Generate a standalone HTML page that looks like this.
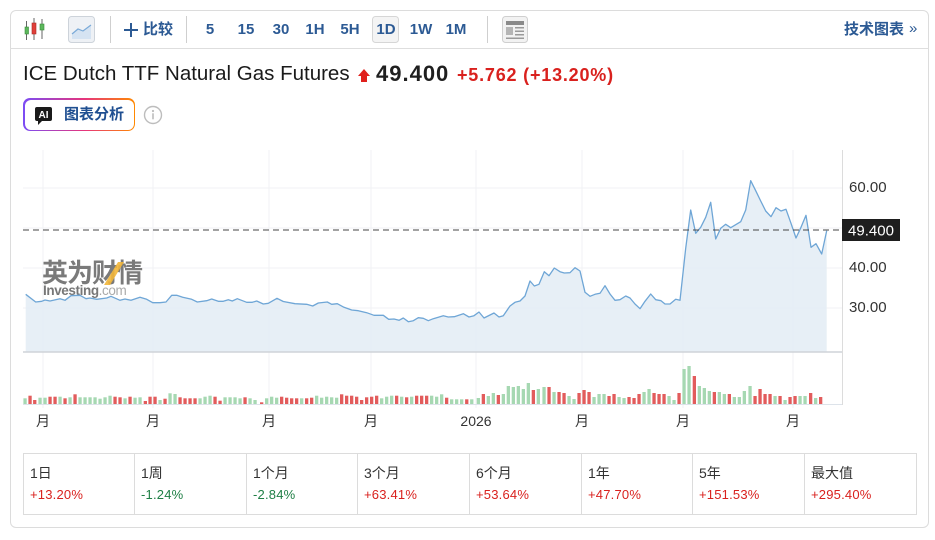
<!DOCTYPE html>
<html><head><meta charset="utf-8">
<style>
*{margin:0;padding:0;box-sizing:border-box}
html,body{width:935px;height:540px;background:#fff;overflow:hidden;font-family:"Liberation Sans","Noto Sans CJK SC",sans-serif}
.card{position:absolute;left:10px;top:10px;width:919px;height:518px;border:1px solid #dcdcdc;border-radius:6px}
.tbl{position:absolute;left:10px;top:48px;width:919px;height:1px;background:#dedede}
.tf{position:absolute;top:20px;width:30px;font-weight:bold;font-size:15px;color:#2c5a94;line-height:20px;text-align:center}
.sep{position:absolute;top:16px;width:1px;height:27px;background:#cfcfcf}
.cell{position:absolute;top:453px;height:62px;border-left:1px solid #dcdcdc}
.lab{position:absolute;left:6px;top:11px;font-size:14px;line-height:18px;color:#333;white-space:nowrap}
.val{position:absolute;left:6px;top:34px;font-size:13px;line-height:16px;white-space:nowrap;letter-spacing:0.2px}
.r{color:#d9211e}.g{color:#1e7f45}
</style></head><body>
<div class="card"></div>
<div class="tbl"></div>

<!-- toolbar icons -->
<svg style="position:absolute;left:0;top:0" width="935" height="60">
  <line x1="26.5" y1="21" x2="26.5" y2="40" stroke="#666" stroke-width="1"/>
  <rect x="25" y="27" width="3.5" height="7" fill="#5cb85c" stroke="#3a8a3a" stroke-width="0.6"/>
  <line x1="34" y1="18" x2="34" y2="40" stroke="#666" stroke-width="1"/>
  <rect x="32" y="23" width="4" height="11" fill="#e0403a" stroke="#a82a26" stroke-width="0.6"/>
  <line x1="42" y1="19" x2="42" y2="39" stroke="#666" stroke-width="1"/>
  <rect x="40" y="24" width="4" height="6" fill="#5cb85c" stroke="#3a8a3a" stroke-width="0.6"/>
  <rect x="68.5" y="16.5" width="26" height="26" rx="3" fill="#eef1f5" stroke="#cdd3da"/>
  <path d="M72 34 L78 29 L83 31 L91 25 L91 39 L72 39 Z" fill="#d5e3f2"/>
  <polyline points="72,34 78,29 83,31 91,25" fill="none" stroke="#7aaad8" stroke-width="1.2"/>
  <rect x="372.5" y="16.5" width="26" height="26" rx="3" fill="#f4f4f4" stroke="#d6d6d6"/>
  <rect x="502.5" y="16.5" width="25" height="26" rx="3" fill="#f2f2f2" stroke="#cfcfcf"/>
  <rect x="506" y="21" width="18" height="4" fill="#8a8a8a"/>
  <rect x="506" y="27" width="7" height="8" fill="#b5b5b5"/>
  <rect x="515" y="27" width="9" height="1.5" fill="#9a9a9a"/>
  <rect x="515" y="30.5" width="9" height="1.5" fill="#9a9a9a"/>
  <rect x="515" y="34" width="9" height="1.5" fill="#9a9a9a"/>
  <rect x="506" y="37.5" width="18" height="1.5" fill="#9a9a9a"/>
  <line x1="124" y1="30" x2="138" y2="30" stroke="#2c5a94" stroke-width="2"/>
  <line x1="131" y1="23" x2="131" y2="37" stroke="#2c5a94" stroke-width="2"/>
</svg>
<div class="sep" style="left:110px"></div>
<div class="sep" style="left:186px"></div>
<div class="sep" style="left:487px"></div>
<div style="position:absolute;left:143px;top:20px;font-weight:bold;font-size:15px;line-height:20px;color:#2c5a94">比较</div>
<div class="tf" style="left:195px">5</div>
<div class="tf" style="left:231px">15</div>
<div class="tf" style="left:266px">30</div>
<div class="tf" style="left:300px">1H</div>
<div class="tf" style="left:335px">5H</div>
<div class="tf" style="left:371px">1D</div>
<div class="tf" style="left:406px">1W</div>
<div class="tf" style="left:441px">1M</div>
<div style="position:absolute;left:844px;top:20px;font-weight:bold;font-size:15px;line-height:20px;color:#2c5a94">技术图表</div>
<div style="position:absolute;left:909px;top:19px;font-size:15px;line-height:20px;color:#2c5a94">»</div>

<!-- title -->
<div style="position:absolute;left:23px;top:62px;font-size:20.5px;line-height:24px;color:#1a1a1a;white-space:nowrap">ICE Dutch TTF Natural Gas Futures</div>
<svg style="position:absolute;left:355px;top:66px" width="18" height="18"><polygon points="9,3 15,10 12,10 12,16 6,16 6,10 3,10" fill="#e0201c"/></svg>
<div style="position:absolute;left:376px;top:62px;font-size:22px;font-weight:bold;line-height:24px;color:#1f1f1f;letter-spacing:1px">49.400</div>
<div style="position:absolute;left:457px;top:64px;font-size:18px;font-weight:bold;line-height:22px;color:#d9211e;letter-spacing:0.8px;white-space:nowrap">+5.762 (+13.20%)</div>

<!-- AI button -->
<div style="position:absolute;left:23px;top:98px;width:112px;height:33px;border-radius:7px;background:linear-gradient(to right,#7b4cf5,#e6357c 55%,#ff8a00);padding:1.5px">
  <div style="width:100%;height:100%;background:#fff;border-radius:6px"></div>
</div>
<svg style="position:absolute;left:34px;top:105px" width="20" height="22"><path d="M3 2 H16 Q18 2 18 4 V14 Q18 16 16 16 H8 L4 20 L4 16 H3 Q1 16 1 14 V4 Q1 2 3 2 Z" fill="#1a1a1a"/><text x="9.5" y="13" text-anchor="middle" font-family="Liberation Sans" font-weight="bold" font-size="10" fill="#fff">AI</text></svg>
<div style="position:absolute;left:64px;top:105px;font-size:15px;font-weight:bold;line-height:20px;color:#1f4f91">图表分析</div>
<svg style="position:absolute;left:143px;top:104px" width="22" height="22"><circle cx="10" cy="11" r="8.5" fill="none" stroke="#bdbdbd" stroke-width="1.4"/><circle cx="10" cy="7" r="1.1" fill="#bdbdbd"/><rect x="9.2" y="9.3" width="1.6" height="6" fill="#bdbdbd"/></svg>

<!-- chart -->
<svg style="position:absolute;left:0;top:0" width="935" height="540" font-family="Liberation Sans, Noto Sans CJK SC, sans-serif">
  <g stroke="#f1f2f4" stroke-width="1">
    <line x1="23" y1="188" x2="842" y2="188"/>
    <line x1="23" y1="228" x2="842" y2="228"/>
    <line x1="23" y1="268" x2="842" y2="268"/>
    <line x1="23" y1="308" x2="842" y2="308"/>
    <line x1="43" y1="150" x2="43" y2="408"/>
    <line x1="153" y1="150" x2="153" y2="408"/>
    <line x1="269" y1="150" x2="269" y2="408"/>
    <line x1="371" y1="150" x2="371" y2="408"/>
    <line x1="476" y1="150" x2="476" y2="408"/>
    <line x1="582" y1="150" x2="582" y2="408"/>
    <line x1="683" y1="150" x2="683" y2="408"/>
    <line x1="793" y1="150" x2="793" y2="408"/>
  </g>
  <!-- watermark -->
  <text x="42" y="282" font-size="26" font-weight="bold" fill="#7a7a7a" letter-spacing="-1" font-family="Noto Sans CJK SC, sans-serif">英为财情</text>
  <polygon points="118,262 124,262 110,285 104,285" fill="#f2b63a" opacity="0.9"/>
  <text x="43" y="295" font-size="13.5" font-weight="bold" fill="#777" letter-spacing="-0.4">Investing<tspan font-weight="normal" fill="#aaa">.com</tspan></text>

  <polygon fill="#e4edf5" fill-opacity="0.9" points="25.7,294.3 35.7,302 41.7,301.3 45,300 50,301 60,298.7 65,300.3 71,295.7 80,295.3 86,298.7 90,298 96.7,299.3 106.7,298 111,296.3 120,300.3 125,299 131,300.3 140,297.3 146.7,299.3 152.7,302.7 160,302.7 166,302 171.7,295.3 176.7,295.3 182.7,297.3 191.7,299.3 197.3,302 206.7,300.7 211.7,299 218.3,301.3 223.3,301.3 228.3,299.7 232.3,301 237.3,298.7 246.7,302.3 252.3,302.3 256.7,301 263.3,304 268.3,303.3 277,298.3 283.3,301.5 295,303.7 306.7,304.3 312.7,306 318.3,303 327.3,302 331.7,304.3 337.3,303.7 344,307.3 351.7,310 358.3,310.7 366.7,312.7 374,315.3 383.3,315.3 388.7,319.3 394,319 399,320.3 403.3,318 408.3,321.7 413.3,320.7 418.3,317.7 423.3,318.3 428.3,320.7 433.3,318.7 438.3,317.3 443.3,315.7 448.3,317 454.3,316.7 463.3,313.7 469,317 474,315.7 479,312 484,318 494,313 499,317 503.3,315.7 510,306 515,302.3 520,301 525,296 530,281 534.3,286 539,284.3 544.3,271.7 549,275.7 554.3,268 560,271.7 564.3,273 570,272.7 575,267.7 580,271 585,292.3 590,296.3 595,294.3 600,293.3 605,285.7 610,294 615,300.3 620,299.7 625.7,296 630,298 635,304 640,308.7 645,301.3 650.7,294 655.7,299.7 661,300.7 665,304 670,304 675.7,299.3 680,300.3 685.7,248.3 690.7,210 695.7,233.3 700.7,227.3 705.7,217.3 710.7,202.3 715.7,239 720.7,228.3 725.7,224.3 730.7,227.7 735.7,224.7 740.7,221.7 745.7,210 750.7,180.7 755.7,190.7 760.7,201 765.7,211 771,216.7 776,207.7 781,211 786,209.3 791,223.3 796,238 801,227.3 806,215.3 811,247.3 816,243.7 821.7,254 826.7,230.7 826.7,352 25.7,352"/>
  <polyline fill="none" stroke="#6fa6d6" stroke-width="1.3" stroke-linejoin="round" points="25.7,294.3 35.7,302 41.7,301.3 45,300 50,301 60,298.7 65,300.3 71,295.7 80,295.3 86,298.7 90,298 96.7,299.3 106.7,298 111,296.3 120,300.3 125,299 131,300.3 140,297.3 146.7,299.3 152.7,302.7 160,302.7 166,302 171.7,295.3 176.7,295.3 182.7,297.3 191.7,299.3 197.3,302 206.7,300.7 211.7,299 218.3,301.3 223.3,301.3 228.3,299.7 232.3,301 237.3,298.7 246.7,302.3 252.3,302.3 256.7,301 263.3,304 268.3,303.3 277,298.3 283.3,301.5 295,303.7 306.7,304.3 312.7,306 318.3,303 327.3,302 331.7,304.3 337.3,303.7 344,307.3 351.7,310 358.3,310.7 366.7,312.7 374,315.3 383.3,315.3 388.7,319.3 394,319 399,320.3 403.3,318 408.3,321.7 413.3,320.7 418.3,317.7 423.3,318.3 428.3,320.7 433.3,318.7 438.3,317.3 443.3,315.7 448.3,317 454.3,316.7 463.3,313.7 469,317 474,315.7 479,312 484,318 494,313 499,317 503.3,315.7 510,306 515,302.3 520,301 525,296 530,281 534.3,286 539,284.3 544.3,271.7 549,275.7 554.3,268 560,271.7 564.3,273 570,272.7 575,267.7 580,271 585,292.3 590,296.3 595,294.3 600,293.3 605,285.7 610,294 615,300.3 620,299.7 625.7,296 630,298 635,304 640,308.7 645,301.3 650.7,294 655.7,299.7 661,300.7 665,304 670,304 675.7,299.3 680,300.3 685.7,248.3 690.7,210 695.7,233.3 700.7,227.3 705.7,217.3 710.7,202.3 715.7,239 720.7,228.3 725.7,224.3 730.7,227.7 735.7,224.7 740.7,221.7 745.7,210 750.7,180.7 755.7,190.7 760.7,201 765.7,211 771,216.7 776,207.7 781,211 786,209.3 791,223.3 796,238 801,227.3 806,215.3 811,247.3 816,243.7 821.7,254 826.7,230.7"/>

  <line x1="23" y1="230" x2="842" y2="230" stroke="#444" stroke-width="1.1" stroke-dasharray="6,4"/>
  <line x1="23" y1="352" x2="842" y2="352" stroke="#cfd3d8" stroke-width="1.5"/>
  <line x1="23" y1="404.5" x2="842" y2="404.5" stroke="#dde3ea" stroke-width="1"/>
  <line x1="842.5" y1="150" x2="842.5" y2="405" stroke="#dcdcdc" stroke-width="1"/>

  <!-- volume green -->
  <g fill="#a6d8b2">
    <rect x="23.4" y="398.3" width="3.3" height="5.7"/><rect x="38.4" y="397.7" width="3.3" height="6.3"/><rect x="43.4" y="397.7" width="3.3" height="6.3"/><rect x="58.4" y="396.7" width="3.3" height="7.3"/><rect x="68.4" y="397.3" width="3.3" height="6.7"/><rect x="78.4" y="397.3" width="3.3" height="6.7"/><rect x="83.4" y="397.3" width="3.3" height="6.7"/><rect x="88.4" y="397.3" width="3.3" height="6.7"/><rect x="93.4" y="397.3" width="3.3" height="6.7"/><rect x="98.4" y="398.7" width="3.3" height="5.3"/><rect x="103.4" y="397.3" width="3.3" height="6.7"/><rect x="108.4" y="395.7" width="3.3" height="8.3"/><rect x="123.4" y="398.3" width="3.3" height="5.7"/><rect x="133.4" y="397.7" width="3.3" height="6.3"/><rect x="138.4" y="397.3" width="3.3" height="6.7"/><rect x="158.4" y="400" width="3.3" height="4"/><rect x="168.4" y="393.3" width="3.3" height="10.7"/><rect x="173.4" y="394" width="3.3" height="10"/><rect x="198.4" y="398.3" width="3.3" height="5.7"/><rect x="203.4" y="396.7" width="3.3" height="7.3"/><rect x="208.4" y="395.7" width="3.3" height="8.3"/><rect x="223.4" y="397.3" width="3.3" height="6.7"/><rect x="228.4" y="397.3" width="3.3" height="6.7"/><rect x="233.4" y="397.3" width="3.3" height="6.7"/><rect x="238.4" y="398.3" width="3.3" height="5.7"/><rect x="248.4" y="398.3" width="3.3" height="5.7"/><rect x="253.4" y="400" width="3.3" height="4"/><rect x="265" y="398.3" width="3.3" height="5.7"/><rect x="270" y="396.7" width="3.3" height="7.3"/><rect x="275" y="397.7" width="3.3" height="6.3"/><rect x="300" y="398.3" width="3.3" height="5.7"/><rect x="315" y="395.7" width="3.3" height="8.3"/><rect x="320" y="397.7" width="3.3" height="6.3"/><rect x="325" y="396.7" width="3.3" height="7.3"/><rect x="330" y="397.3" width="3.3" height="6.7"/><rect x="335" y="397.7" width="3.3" height="6.3"/><rect x="380" y="398.3" width="3.3" height="5.7"/><rect x="385" y="396.7" width="3.3" height="7.3"/><rect x="390" y="395.7" width="3.3" height="8.3"/><rect x="400" y="396.7" width="3.3" height="7.3"/><rect x="410" y="396.7" width="3.3" height="7.3"/><rect x="430" y="395.7" width="3.3" height="8.3"/><rect x="435" y="396.7" width="3.3" height="7.3"/><rect x="440" y="394.3" width="3.3" height="9.7"/><rect x="450" y="399.3" width="3.3" height="4.7"/><rect x="455" y="399.3" width="3.3" height="4.7"/><rect x="460" y="399.3" width="3.3" height="4.7"/>
    <rect x="470.1" y="399.3" width="3.3" height="4.7"/><rect x="476.7" y="398" width="3.3" height="6"/><rect x="486.7" y="396" width="3.3" height="8"/><rect x="491.7" y="393" width="3.3" height="11"/><rect x="501.7" y="394" width="3.3" height="10"/><rect x="506.7" y="386" width="3.3" height="18"/><rect x="511.7" y="387" width="3.3" height="17"/><rect x="516.7" y="386" width="3.3" height="18"/><rect x="521.7" y="389" width="3.3" height="15"/><rect x="526.7" y="383" width="3.3" height="21"/><rect x="536.7" y="389" width="3.3" height="15"/><rect x="542.4" y="387" width="3.3" height="17"/><rect x="552.4" y="392" width="3.3" height="12"/><rect x="567.4" y="396" width="3.3" height="8"/><rect x="572.4" y="399" width="3.3" height="5"/><rect x="592.4" y="397" width="3.3" height="7"/><rect x="597.4" y="394" width="3.3" height="10"/><rect x="602.4" y="394" width="3.3" height="10"/><rect x="617.4" y="397" width="3.3" height="7"/><rect x="622.4" y="398" width="3.3" height="6"/><rect x="642.4" y="392" width="3.3" height="12"/><rect x="647.4" y="389" width="3.3" height="15"/><rect x="667.4" y="396" width="3.3" height="8"/><rect x="672.4" y="400" width="3.3" height="4"/><rect x="682.4" y="369" width="3.3" height="35"/><rect x="687.4" y="366" width="3.3" height="38"/><rect x="697.7" y="386" width="3.3" height="18"/><rect x="702.7" y="388" width="3.3" height="16"/><rect x="707.7" y="391" width="3.3" height="13"/><rect x="717.7" y="392" width="3.3" height="12"/><rect x="722.7" y="394" width="3.3" height="10"/><rect x="732.7" y="397" width="3.3" height="7"/><rect x="737.7" y="397" width="3.3" height="7"/><rect x="742.7" y="391" width="3.3" height="13"/><rect x="748.4" y="386" width="3.3" height="18"/><rect x="773.4" y="396" width="3.3" height="8"/><rect x="783.4" y="400" width="3.3" height="4"/><rect x="798.4" y="396" width="3.3" height="8"/><rect x="803.4" y="396" width="3.3" height="8"/><rect x="814" y="398" width="3.3" height="6"/>
  </g>
  <!-- volume red -->
  <g fill="#e25c5c">
    <rect x="28.4" y="395.7" width="3.3" height="8.3"/><rect x="33.1" y="400" width="3.3" height="4"/><rect x="48.4" y="396.7" width="3.3" height="7.3"/><rect x="53.4" y="396.7" width="3.3" height="7.3"/><rect x="63.4" y="398.3" width="3.3" height="5.7"/><rect x="73.4" y="394.3" width="3.3" height="9.7"/><rect x="113.4" y="396.7" width="3.3" height="7.3"/><rect x="118.4" y="397.3" width="3.3" height="6.7"/><rect x="128.4" y="396.7" width="3.3" height="7.3"/><rect x="143.7" y="401" width="3.3" height="3"/><rect x="148.4" y="396.7" width="3.3" height="7.3"/><rect x="153.4" y="396.7" width="3.3" height="7.3"/><rect x="163.4" y="398.7" width="3.3" height="5.3"/><rect x="178.4" y="397.3" width="3.3" height="6.7"/><rect x="183.4" y="398.3" width="3.3" height="5.7"/><rect x="188.4" y="398.3" width="3.3" height="5.7"/><rect x="193.4" y="398.3" width="3.3" height="5.7"/><rect x="213.4" y="396.7" width="3.3" height="7.3"/><rect x="218.4" y="400.7" width="3.3" height="3.3"/><rect x="243.4" y="397.3" width="3.3" height="6.7"/><rect x="260" y="402.3" width="3.3" height="1.7"/><rect x="280" y="396.7" width="3.3" height="7.3"/><rect x="285" y="397.7" width="3.3" height="6.3"/><rect x="290" y="398.3" width="3.3" height="5.7"/><rect x="295" y="398.3" width="3.3" height="5.7"/><rect x="305" y="398.3" width="3.3" height="5.7"/><rect x="310" y="397.7" width="3.3" height="6.3"/><rect x="340" y="394.3" width="3.3" height="9.7"/><rect x="345" y="395.7" width="3.3" height="8.3"/><rect x="350" y="395.7" width="3.3" height="8.3"/><rect x="355" y="396.7" width="3.3" height="7.3"/><rect x="360" y="400" width="3.3" height="4"/><rect x="365" y="397.3" width="3.3" height="6.7"/><rect x="370" y="396.7" width="3.3" height="7.3"/><rect x="375" y="395.7" width="3.3" height="8.3"/><rect x="395" y="395.7" width="3.3" height="8.3"/><rect x="405" y="397.3" width="3.3" height="6.7"/><rect x="415" y="395.7" width="3.3" height="8.3"/><rect x="420" y="395.7" width="3.3" height="8.3"/><rect x="425" y="395.7" width="3.3" height="8.3"/><rect x="445" y="397.7" width="3.3" height="6.3"/>
    <rect x="465.1" y="399.3" width="3.3" height="4.7"/><rect x="481.7" y="394" width="3.3" height="10"/><rect x="496.7" y="395" width="3.3" height="9"/><rect x="531.7" y="390" width="3.3" height="14"/><rect x="547.4" y="387" width="3.3" height="17"/><rect x="557.4" y="392" width="3.3" height="12"/><rect x="562.4" y="393" width="3.3" height="11"/><rect x="577.4" y="393" width="3.3" height="11"/><rect x="582.4" y="390" width="3.3" height="14"/><rect x="587.4" y="392" width="3.3" height="12"/><rect x="607.4" y="396" width="3.3" height="8"/><rect x="612.4" y="394" width="3.3" height="10"/><rect x="627.4" y="397" width="3.3" height="7"/><rect x="632.4" y="398" width="3.3" height="6"/><rect x="637.4" y="394" width="3.3" height="10"/><rect x="652.4" y="393" width="3.3" height="11"/><rect x="657.4" y="394" width="3.3" height="10"/><rect x="662.4" y="394" width="3.3" height="10"/><rect x="677.4" y="393" width="3.3" height="11"/><rect x="692.7" y="376" width="3.3" height="28"/><rect x="712.7" y="392" width="3.3" height="12"/><rect x="727.7" y="394" width="3.3" height="10"/><rect x="753.4" y="396" width="3.3" height="8"/><rect x="758.4" y="389" width="3.3" height="15"/><rect x="763.4" y="394" width="3.3" height="10"/><rect x="768.4" y="394" width="3.3" height="10"/><rect x="778.4" y="396" width="3.3" height="8"/><rect x="788.4" y="397" width="3.3" height="7"/><rect x="793.4" y="396" width="3.3" height="8"/><rect x="809" y="393" width="3.3" height="11"/><rect x="819" y="397" width="3.3" height="7"/>
  </g>

  <!-- y labels -->
  <g font-size="15" fill="#333">
    <text x="849" y="192">60.00</text>
    <text x="849" y="272">40.00</text>
    <text x="849" y="312">30.00</text>
  </g>
  <rect x="842" y="219" width="58" height="22" fill="#1e1e1e"/>
  <text x="871" y="235.5" font-size="15" fill="#fff" text-anchor="middle">49.400</text>

  <!-- x labels -->
  <g font-size="14" fill="#333" text-anchor="middle">
    <text x="43" y="426">月</text>
    <text x="153" y="426">月</text>
    <text x="269" y="426">月</text>
    <text x="371" y="426">月</text>
    <text x="476" y="426">2026</text>
    <text x="582" y="426">月</text>
    <text x="683" y="426">月</text>
    <text x="793" y="426">月</text>
  </g>
</svg>

<!-- stats -->
<div style="position:absolute;left:23px;top:453px;width:894px;height:62px;border:1px solid #dcdcdc"></div>
<div class="cell" style="left:23px"><div class="lab">1日</div><div class="val r">+13.20%</div></div>
<div class="cell" style="left:134px"><div class="lab">1周</div><div class="val g">-1.24%</div></div>
<div class="cell" style="left:246px"><div class="lab">1个月</div><div class="val g">-2.84%</div></div>
<div class="cell" style="left:357px"><div class="lab">3个月</div><div class="val r">+63.41%</div></div>
<div class="cell" style="left:469px"><div class="lab">6个月</div><div class="val r">+53.64%</div></div>
<div class="cell" style="left:581px"><div class="lab">1年</div><div class="val r">+47.70%</div></div>
<div class="cell" style="left:692px"><div class="lab">5年</div><div class="val r">+151.53%</div></div>
<div class="cell" style="left:804px"><div class="lab">最大值</div><div class="val r">+295.40%</div></div>
</body></html>
